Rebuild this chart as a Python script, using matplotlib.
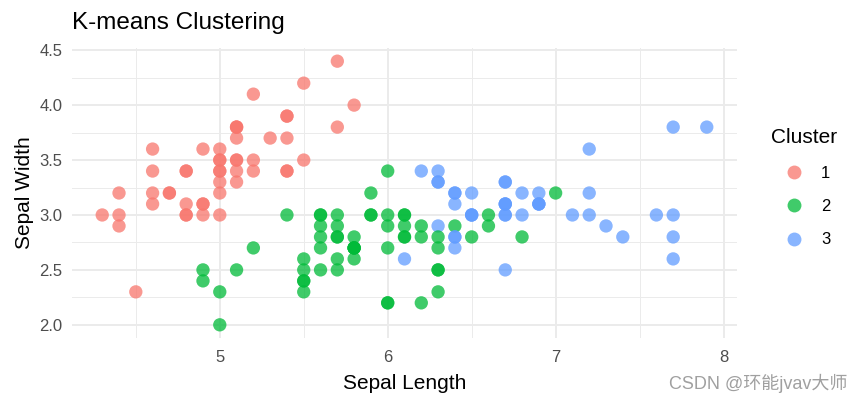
import matplotlib.pyplot as plt
import numpy as np

plt.rcParams['font.family'] = ['Liberation Sans', 'DejaVu Sans']

# iris sepal measurements, in row order
sepal_length = [5.1, 4.9, 4.7, 4.6, 5.0, 5.4, 4.6, 5.0, 4.4, 4.9, 5.4, 4.8, 4.8, 4.3, 5.8, 5.7, 5.4, 5.1, 5.7, 5.1,
                5.4, 5.1, 4.6, 5.1, 4.8, 5.0, 5.0, 5.2, 5.2, 4.7, 4.8, 5.4, 5.2, 5.5, 4.9, 5.0, 5.5, 4.9, 4.4, 5.1,
                5.0, 4.5, 4.4, 5.0, 5.1, 4.8, 5.1, 4.6, 5.3, 5.0,
                7.0, 6.4, 6.9, 5.5, 6.5, 5.7, 6.3, 4.9, 6.6, 5.2, 5.0, 5.9, 6.0, 6.1, 5.6, 6.7, 5.6, 5.8, 6.2, 5.6,
                5.9, 6.1, 6.3, 6.1, 6.4, 6.6, 6.8, 6.7, 6.0, 5.7, 5.5, 5.5, 5.8, 6.0, 5.4, 6.0, 6.7, 6.3, 5.6, 5.5,
                5.5, 6.1, 5.8, 5.0, 5.6, 5.7, 5.7, 6.2, 5.1, 5.7,
                6.3, 5.8, 7.1, 6.3, 6.5, 7.6, 4.9, 7.3, 6.7, 7.2, 6.5, 6.4, 6.8, 5.7, 5.8, 6.4, 6.5, 7.7, 7.7, 6.0,
                6.9, 5.6, 7.7, 6.3, 6.7, 7.2, 6.2, 6.1, 6.4, 7.2, 7.4, 7.9, 6.4, 6.3, 6.1, 7.7, 6.3, 6.4, 6.0, 6.9,
                6.7, 6.9, 5.8, 6.8, 6.7, 6.7, 6.3, 6.5, 6.2, 5.9]
sepal_width = [3.5, 3.0, 3.2, 3.1, 3.6, 3.9, 3.4, 3.4, 2.9, 3.1, 3.7, 3.4, 3.0, 3.0, 4.0, 4.4, 3.9, 3.5, 3.8, 3.8,
               3.4, 3.7, 3.6, 3.3, 3.4, 3.0, 3.4, 3.5, 3.4, 3.2, 3.1, 3.4, 4.1, 4.2, 3.1, 3.2, 3.5, 3.6, 3.0, 3.4,
               3.5, 2.3, 3.2, 3.5, 3.8, 3.0, 3.8, 3.2, 3.7, 3.3,
               3.2, 3.2, 3.1, 2.3, 2.8, 2.8, 3.3, 2.4, 2.9, 2.7, 2.0, 3.0, 2.2, 2.9, 2.9, 3.1, 3.0, 2.7, 2.2, 2.5,
               3.2, 2.8, 2.5, 2.8, 2.9, 3.0, 2.8, 3.0, 2.9, 2.6, 2.4, 2.4, 2.7, 2.7, 3.0, 3.4, 3.1, 2.3, 3.0, 2.5,
               2.6, 3.0, 2.6, 2.3, 2.7, 3.0, 2.9, 2.9, 2.5, 2.8,
               3.3, 2.7, 3.0, 2.9, 3.0, 3.0, 2.5, 2.9, 2.5, 3.6, 3.2, 2.7, 3.0, 2.5, 2.8, 3.2, 3.0, 3.8, 2.6, 2.2,
               3.2, 2.8, 2.8, 2.7, 3.3, 3.2, 2.8, 3.0, 2.8, 3.0, 2.8, 3.8, 2.8, 2.8, 2.6, 3.0, 3.4, 3.1, 3.0, 3.1,
               3.1, 3.1, 2.7, 3.2, 3.3, 3.0, 2.5, 3.0, 3.4, 3.0]
cluster = [1] * 50 + \
          [2, 3, 3, 2, 2, 2, 3, 2, 2, 2, 2, 2, 2, 2, 2, 3, 2, 2, 2, 2,
           2, 2, 2, 2, 2, 2, 2, 3, 2, 2, 2, 2, 2, 2, 2, 2, 3, 2, 2, 2,
           2, 2, 2, 2, 2, 2, 2, 2, 2, 2] + \
          [3, 2, 3, 3, 3, 3, 2, 3, 3, 3, 3, 3, 3, 2, 2, 3, 3, 3, 3, 2,
           3, 2, 3, 2, 3, 3, 2, 2, 3, 3, 3, 3, 3, 2, 3, 3, 3, 3, 2, 3,
           3, 3, 2, 3, 3, 3, 2, 3, 3, 2]

cluster_names = ['1', '2', '3']
cluster_colors = ['#F8766D', '#00BA38', '#619CFF']
x_ticks = [5, 6, 7, 8]
y_ticks = [2.0, 2.5, 3.0, 3.5, 4.0, 4.5]

x = np.array(sepal_length)
y = np.array(sepal_width)
c = [cluster_colors[k - 1] for k in cluster]

fig = plt.figure(figsize=(8.62, 4.03), dpi=100)
ax = fig.add_axes([72 / 862, 1 - 338 / 403, (737 - 72) / 862, (338 - 48) / 403])

ax.scatter(x, y, c=c, s=92, alpha=0.75, linewidths=0, zorder=3)

xr = x.max() - x.min()
yr = y.max() - y.min()
ax.set_xlim(x.min() - 0.05 * xr, x.max() + 0.05 * xr)
ax.set_ylim(y.min() - 0.05 * yr, y.max() + 0.05 * yr)

ax.set_xticks(x_ticks)
ax.set_xticklabels([str(t) for t in x_ticks])
ax.set_yticks(y_ticks)
ax.set_yticklabels(['%.1f' % t for t in y_ticks])
ax.set_xticks([4.5, 5.5, 6.5, 7.5], minor=True)
ax.set_yticks([2.25, 2.75, 3.25, 3.75, 4.25], minor=True)

ax.grid(True, which='major', color='#EBEBEB', lw=1.4, zorder=0)
ax.grid(True, which='minor', color='#EBEBEB', lw=0.7, zorder=0)
ax.tick_params(which='both', length=0)
ax.tick_params(axis='both', labelsize=12, labelcolor='#4D4D4D')
ax.tick_params(axis='x', pad=9)
ax.tick_params(axis='y', pad=7)
for s in ax.spines.values():
    s.set_visible(False)

ax.set_xlabel('Sepal Length', fontsize=15, labelpad=6)
ax.set_ylabel('Sepal Width', fontsize=15, labelpad=4)
fig.text(72 / 862, 1 - 29 / 403, 'K-means Clustering', fontsize=17.5, ha='left', va='baseline')

handles = [plt.Line2D([], [], marker='o', ls='', markersize=10, markeredgewidth=0,
                      color=col, alpha=0.75) for col in cluster_colors]
leg = fig.legend(handles, cluster_names, title='Cluster', loc='center left',
                 bbox_to_anchor=(756 / 862, 1 - 188 / 403), frameon=False,
                 fontsize=12, title_fontsize=15, labelspacing=1.1, handletextpad=0.6)

fig.text(847 / 862, 1 - 383 / 403, 'CSDN @环能jvav大师', fontsize=13, color='#A0A0A0',
         ha='right', va='center', family=['Liberation Sans', 'Noto Sans CJK SC'])

plt.savefig('out.png', dpi=100)
